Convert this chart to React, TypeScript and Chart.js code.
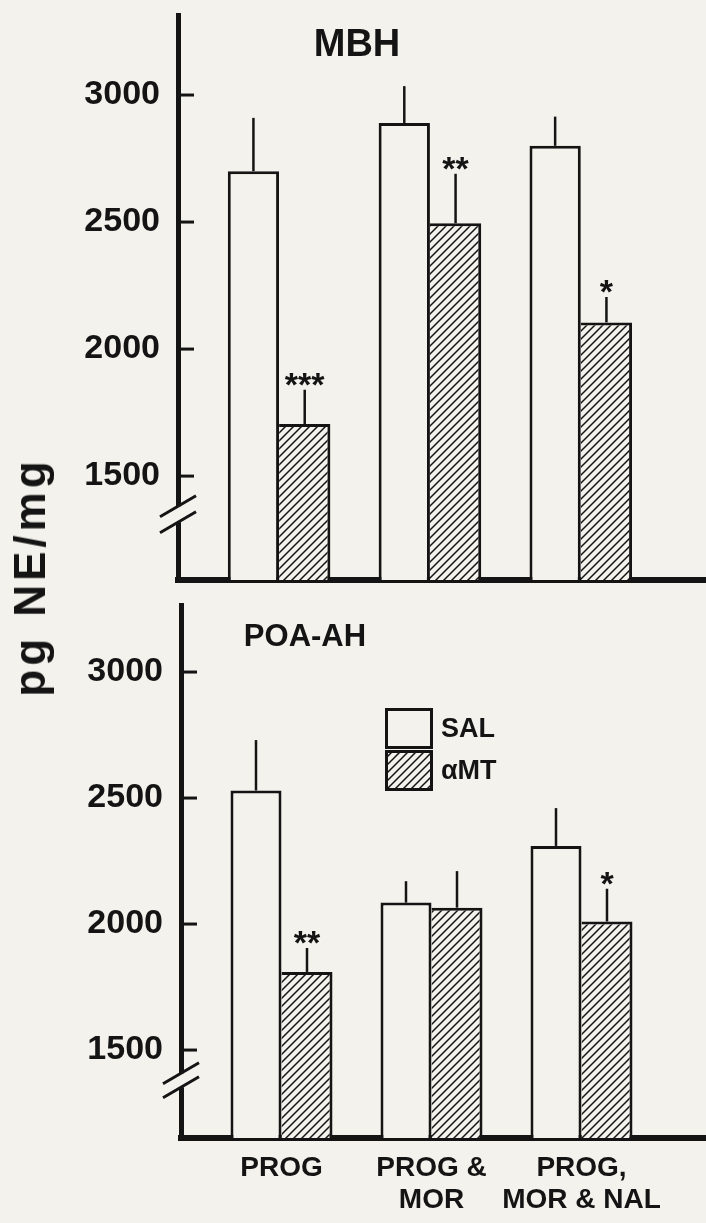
import React, { useEffect, useRef } from 'react';
import { Chart, registerables } from 'chart.js';

Chart.register(...registerables);

// ---------- data ----------
const GROUP_LABELS: string[][] = [['PROG'], ['PROG &', 'MOR'], ['PROG,', 'MOR & NAL']];
const GROUP_X = [1, 2, 3];
const SERIES = ['SAL', 'αMT'];
const Y_TICKS = [1500, 2000, 2500, 3000];

const MBH_SAL = [2700, 2890, 2800];
const MBH_SAL_SEM = [210, 145, 115];
const MBH_AMT = [1705, 2495, 2105];
const MBH_AMT_SEM = [135, 195, 100];
const MBH_STARS = ['***', '**', '*'];

const POA_SAL = [2530, 2085, 2310];
const POA_SAL_SEM = [200, 85, 150];
const POA_AMT = [1810, 2065, 2010];
const POA_AMT_SEM = [95, 145, 130];
const POA_STARS = ['**', '', '*'];

// ---------- style ----------
const PAPER = '#f3f2ec';
const INK = '#141414';
const FAMILY = '"Liberation Sans", Arial, Helvetica, sans-serif';

type Panel = {
  title: string;
  titleSize: number;
  titleDx: number;
  sal: number[];
  salSem: number[];
  amt: number[];
  amtSem: number[];
  stars: string[];
  yMin: number;
  yMax: number;
  breakValue: number;
  breakSep: number;
  showXLabels: boolean;
  showLegend: boolean;
  canvasTop: number;
  canvasHeight: number;
  padTop: number;
  xAxisHeight: number;
  yAxisWidth: number;
};

const PANELS: Panel[] = [
  {
    title: 'MBH', titleSize: 38, titleDx: 179,
    sal: MBH_SAL, salSem: MBH_SAL_SEM, amt: MBH_AMT, amtSem: MBH_AMT_SEM, stars: MBH_STARS,
    yMin: 1091, yMax: 3315, breakValue: 1350, breakSep: 16,
    showXLabels: false, showLegend: false,
    canvasTop: 0, canvasHeight: 600, padTop: 15, xAxisHeight: 20, yAxisWidth: 178,
  },
  {
    title: 'POA-AH', titleSize: 31, titleDx: 124,
    sal: POA_SAL, salSem: POA_SAL_SEM, amt: POA_AMT, amtSem: POA_AMT_SEM, stars: POA_STARS,
    yMin: 1151, yMax: 3266, breakValue: 1380, breakSep: 14,
    showXLabels: true, showLegend: true,
    canvasTop: 600, canvasHeight: 623, padTop: 5, xAxisHeight: 85, yAxisWidth: 181,
  },
];

function makeHatch(): CanvasPattern | string {
  const c = document.createElement('canvas');
  c.width = 8;
  c.height = 8;
  const g = c.getContext('2d');
  if (!g) return PAPER;
  g.fillStyle = PAPER;
  g.fillRect(0, 0, 8, 8);
  g.strokeStyle = INK;
  g.lineWidth = 1.5;
  g.beginPath();
  g.moveTo(-2, 10);
  g.lineTo(10, -2);
  g.moveTo(-2, 2);
  g.lineTo(2, -2);
  g.moveTo(6, 10);
  g.lineTo(10, 6);
  g.stroke();
  const p = g.createPattern(c, 'repeat');
  return p || PAPER;
}

function makePanelPlugin(p: Panel, hatch: CanvasPattern | string) {
  return {
    id: 'panelDecor',
    afterDatasetsDraw(chart: any) {
      const ctx = chart.ctx;
      const ys = chart.scales.y;
      const sems = [p.salSem, p.amtSem];
      const vals = [p.sal, p.amt];
      ctx.save();
      ctx.strokeStyle = INK;
      ctx.lineWidth = 2.5;
      chart.data.datasets.forEach((_ds: any, di: number) => {
        const meta = chart.getDatasetMeta(di);
        meta.data.forEach((bar: any, i: number) => {
          const top = ys.getPixelForValue(vals[di][i] + sems[di][i]);
          ctx.beginPath();
          ctx.moveTo(bar.x, bar.y);
          ctx.lineTo(bar.x, top);
          ctx.stroke();
          if (di === 1 && p.stars[i]) {
            ctx.fillStyle = INK;
            ctx.font = `bold 34px ${FAMILY}`;
            ctx.textAlign = 'center';
            ctx.textBaseline = 'alphabetic';
            ctx.fillText(p.stars[i], bar.x, top + 6);
          }
        });
      });
      ctx.restore();
    },
    afterDraw(chart: any) {
      const ctx = chart.ctx;
      const area = chart.chartArea;
      const ys = chart.scales.y;
      const left = area.left;
      ctx.save();
      // inward tick marks
      ctx.strokeStyle = INK;
      ctx.lineWidth = 3;
      ys.ticks.forEach((t: any) => {
        const y = ys.getPixelForValue(t.value);
        ctx.beginPath();
        ctx.moveTo(left, y);
        ctx.lineTo(left + 16, y);
        ctx.stroke();
      });
      // axis break
      const yc = ys.getPixelForValue(p.breakValue);
      const h = p.breakSep / 2;
      ctx.fillStyle = PAPER;
      ctx.fillRect(left - 6, yc - h, 10, p.breakSep);
      ctx.lineWidth = 3;
      [yc - h, yc + h].forEach((yy) => {
        ctx.beginPath();
        ctx.moveTo(left - 18, yy + 10.5);
        ctx.lineTo(left + 18, yy - 10.5);
        ctx.stroke();
      });
      // panel title
      ctx.fillStyle = INK;
      ctx.font = `bold ${p.titleSize}px ${FAMILY}`;
      ctx.textAlign = 'center';
      ctx.textBaseline = 'alphabetic';
      ctx.fillText(p.title, left + p.titleDx, area.top + 41);
      // legend
      if (p.showLegend) {
        const bx = left + 204;
        const by = area.top + 103;
        const bw = 48;
        const bh = 41;
        const fills = [PAPER, hatch];
        SERIES.forEach((name, i) => {
          const y0 = by + i * (bh + 1);
          ctx.fillStyle = fills[i] as any;
          ctx.fillRect(bx, y0, bw, bh);
          ctx.strokeStyle = INK;
          ctx.lineWidth = 3;
          ctx.strokeRect(bx + 1.5, y0 + 1.5, bw - 3, bh - 3);
          ctx.fillStyle = INK;
          ctx.font = `bold 27px ${FAMILY}`;
          ctx.textAlign = 'left';
          ctx.textBaseline = 'middle';
          ctx.fillText(name, bx + bw + 8, y0 + bh / 2 + 1);
        });
      }
      ctx.restore();
    },
  };
}

function makeConfig(p: Panel, hatch: CanvasPattern | string): any {
  return {
    type: 'bar',
    data: {
      datasets: [
        {
          label: SERIES[0],
          data: GROUP_X.map((x, i) => ({ x, y: p.sal[i] })),
          backgroundColor: PAPER,
          borderColor: INK,
          borderWidth: 3,
          borderSkipped: 'bottom',
        },
        {
          label: SERIES[1],
          data: GROUP_X.map((x, i) => ({ x, y: p.amt[i] })),
          backgroundColor: hatch,
          borderColor: INK,
          borderWidth: 3,
          borderSkipped: 'left',
        },
      ],
    },
    options: {
      animation: false,
      responsive: false,
      maintainAspectRatio: false,
      categoryPercentage: 0.68,
      barPercentage: 1,
      layout: { padding: { top: p.padTop, left: 0, right: 0, bottom: 0 } },
      plugins: {
        legend: { display: false },
        tooltip: { enabled: false },
        title: { display: false },
      },
      scales: {
        x: {
          type: 'linear',
          offset: false,
          min: 0.33,
          max: 3.83,
          grid: { display: false, drawTicks: false, offset: false },
          border: { display: true, color: INK, width: 6 },
          afterBuildTicks: (s: any) => {
            s.ticks = GROUP_X.map((v) => ({ value: v }));
          },
          afterFit: (s: any) => {
            s.height = p.xAxisHeight;
            s.paddingLeft = 0;
            s.paddingRight = 0;
          },
          ticks: {
            display: p.showXLabels,
            autoSkip: false,
            maxRotation: 0,
            minRotation: 0,
            padding: 14,
            color: INK,
            font: { family: FAMILY, size: 28, weight: 'bold', lineHeight: 1.15 },
            callback: (_v: any, i: number) => GROUP_LABELS[i],
          },
        },
        y: {
          type: 'linear',
          min: p.yMin,
          max: p.yMax,
          grid: { display: false, drawTicks: false },
          border: { display: true, color: INK, width: 5 },
          afterBuildTicks: (s: any) => {
            s.ticks = Y_TICKS.map((v) => ({ value: v }));
          },
          afterFit: (s: any) => {
            s.width = p.yAxisWidth;
            s.paddingTop = 0;
            s.paddingBottom = 0;
          },
          ticks: {
            padding: 18,
            color: INK,
            font: { family: FAMILY, size: 34, weight: 'bold' },
            callback: (v: any) => String(v),
          },
        },
      },
    },
    plugins: [makePanelPlugin(p, hatch)],
  };
}

function PanelChart({ panel }: { panel: Panel }) {
  const ref = useRef<HTMLCanvasElement | null>(null);
  useEffect(() => {
    if (!ref.current) return;
    const hatch = makeHatch();
    const chart = new Chart(ref.current, makeConfig(panel, hatch));
    return () => chart.destroy();
  }, [panel]);
  return (
    <canvas
      ref={ref}
      width={706}
      height={panel.canvasHeight}
      style={{ position: 'absolute', left: 0, top: panel.canvasTop, width: 706, height: panel.canvasHeight }}
    />
  );
}

export default function App() {
  useEffect(() => {
    document.body.style.background = PAPER;
  }, []);
  return (
    <div style={{ position: 'absolute', left: 0, top: 0, width: 706, height: 1223, background: PAPER, overflow: 'hidden' }}>
      {PANELS.map((p) => (
        <PanelChart key={p.title} panel={p} />
      ))}
      <div
        style={{
          position: 'absolute',
          left: 30,
          top: 577,
          transform: 'translate(-50%, -50%) rotate(-90deg)',
          whiteSpace: 'nowrap',
          fontFamily: FAMILY,
          fontWeight: 'bold',
          fontSize: 44,
          letterSpacing: 4,
          wordSpacing: 2,
          color: INK,
          lineHeight: 1,
        }}
      >
        pg NE/mg
      </div>
    </div>
  );
}
